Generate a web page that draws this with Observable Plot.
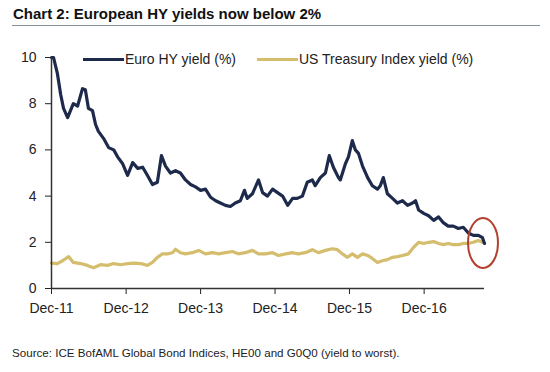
<!DOCTYPE html>
<html><head><meta charset="utf-8">
<script src="https://cdn.jsdelivr.net/npm/d3@7"></script>
<script src="https://cdn.jsdelivr.net/npm/@observablehq/plot@0.6"></script>
<style>
body{margin:0;background:#fff;font-family:"Liberation Sans",Arial,sans-serif;}
#wrap{position:relative;width:550px;height:372px;overflow:hidden;background:#fff;}
#title{position:absolute;left:13px;top:5px;font-weight:bold;font-size:15px;color:#111;white-space:nowrap;}
#rule{position:absolute;left:12px;top:25px;width:528px;height:0;border-top:1px solid #8590a0;}
#chart{position:absolute;left:0;top:30px;}
.leg{position:absolute;top:51px;font-size:14px;color:#222;display:flex;align-items:center;white-space:nowrap;}
.sw{display:inline-block;width:41px;height:3px;margin-right:1px;}
#source{position:absolute;left:12px;top:346px;font-size:11.6px;color:#222;white-space:nowrap;}
</style></head>
<body>
<div id="wrap">
  <div id="title">Chart 2: European HY yields now below 2%</div>
  <div id="rule"></div>
  <div id="chart"></div>
  <div class="leg" style="left:83px"><span class="sw" id="sw0"></span><span id="lab0"></span></div>
  <div class="leg" style="left:257px"><span class="sw" id="sw1"></span><span id="lab1"></span></div>
  <div id="source">Source: ICE BofAML Global Bond Indices, HE00 and G0Q0 (yield to worst).</div>
</div>
<script>
const seriesNames = ["Euro HY yield (%)", "US Treasury Index yield (%)"];
const seriesColors = ["#1e2a4c", "#d5bd6e"];

const euroDates = ["2011-12-01","2011-12-11","2011-12-30","2012-01-15","2012-01-29","2012-02-18","2012-03-03","2012-03-17","2012-04-07","2012-05-01","2012-05-15","2012-05-30","2012-06-19","2012-07-04","2012-07-18","2012-08-12","2012-09-06","2012-10-01","2012-10-20","2012-11-14","2012-12-08","2013-01-02","2013-01-27","2013-02-20","2013-03-15","2013-04-09","2013-05-03","2013-05-23","2013-06-12","2013-07-06","2013-07-31","2013-08-24","2013-09-18","2013-10-13","2013-11-06","2013-12-01","2013-12-25","2014-01-19","2014-02-13","2014-03-08","2014-04-02","2014-04-26","2014-05-20","2014-06-14","2014-07-04","2014-07-18","2014-08-12","2014-09-11","2014-10-01","2014-10-25","2014-11-19","2014-12-13","2015-01-07","2015-02-01","2015-02-25","2015-03-20","2015-04-14","2015-05-08","2015-06-02","2015-06-16","2015-07-11","2015-08-05","2015-08-24","2015-09-13","2015-10-08","2015-10-17","2015-11-11","2015-11-26","2015-12-15","2015-12-30","2016-01-14","2016-02-03","2016-02-28","2016-03-22","2016-04-16","2016-04-30","2016-05-15","2016-06-04","2016-06-29","2016-07-23","2016-08-17","2016-09-11","2016-10-05","2016-10-20","2016-11-04","2016-11-29","2016-12-23","2017-01-17","2017-02-10","2017-03-05","2017-03-29","2017-04-23","2017-05-18","2017-06-11","2017-07-06","2017-07-30","2017-08-24","2017-09-13","2017-09-23"];
const euroValues = [10.0,10.0,9.3,8.4,7.8,7.4,7.7,8.0,7.9,8.65,8.6,7.8,7.7,7.1,6.8,6.5,6.1,6.0,5.7,5.4,4.9,5.45,5.2,5.25,4.9,4.5,4.6,5.75,5.3,5.0,5.1,5.0,4.7,4.5,4.4,4.25,4.3,3.95,3.8,3.7,3.6,3.55,3.7,3.8,4.25,3.9,4.1,4.7,4.15,4.0,4.3,4.15,4.0,3.6,3.9,3.9,4.0,4.6,4.7,4.45,4.8,5.0,5.75,5.25,4.8,4.7,5.4,5.7,6.4,6.0,5.85,5.3,4.8,4.45,4.3,4.45,4.8,4.1,3.9,3.7,3.8,3.6,3.7,3.8,3.4,3.25,3.15,2.95,3.1,2.85,2.7,2.7,2.6,2.65,2.4,2.3,2.3,2.2,1.95];

const usDates = ["2011-12-01","2011-12-30","2012-01-24","2012-02-23","2012-03-17","2012-04-21","2012-05-25","2012-06-24","2012-07-28","2012-09-01","2012-10-01","2012-11-04","2012-12-08","2013-01-07","2013-02-11","2013-03-15","2013-04-09","2013-05-03","2013-05-28","2013-06-21","2013-07-16","2013-07-31","2013-08-24","2013-09-18","2013-10-22","2013-11-21","2013-12-25","2014-01-29","2014-02-27","2014-04-02","2014-05-06","2014-06-04","2014-07-08","2014-08-12","2014-09-11","2014-10-15","2014-11-19","2014-12-18","2015-01-22","2015-02-25","2015-03-25","2015-04-28","2015-06-02","2015-07-01","2015-08-05","2015-09-08","2015-10-03","2015-10-27","2015-11-21","2015-12-15","2016-01-09","2016-02-03","2016-02-28","2016-03-22","2016-04-16","2016-05-10","2016-06-04","2016-06-29","2016-07-23","2016-08-17","2016-09-15","2016-10-10","2016-11-04","2016-11-29","2016-12-23","2017-01-17","2017-02-10","2017-03-05","2017-03-29","2017-04-23","2017-05-18","2017-06-11","2017-07-06","2017-07-30","2017-08-24","2017-09-13"];
const usValues = [1.1,1.08,1.2,1.38,1.13,1.08,1.0,0.9,1.03,1.0,1.08,1.03,1.08,1.1,1.08,1.0,1.13,1.35,1.5,1.5,1.55,1.7,1.55,1.5,1.55,1.65,1.5,1.55,1.5,1.55,1.6,1.5,1.55,1.65,1.5,1.5,1.55,1.43,1.5,1.55,1.5,1.55,1.68,1.55,1.65,1.72,1.68,1.5,1.35,1.5,1.35,1.5,1.43,1.3,1.13,1.2,1.25,1.35,1.38,1.43,1.5,1.78,2.0,1.95,2.0,2.03,1.95,1.9,1.95,1.9,1.9,1.95,1.95,2.0,2.08,2.0];

const xTickDates = ["2011-12-01","2012-12-01","2013-12-01","2014-12-01","2015-12-01","2016-12-01"];
const yTicks = [0, 2, 4, 6, 8, 10];
const xDomain = ["2011-12-01", "2017-09-23"];
const yDomain = [0, 10];

const euro = euroDates.map((d, i) => ({date: new Date(d), value: euroValues[i]}));
const us = usDates.map((d, i) => ({date: new Date(d), value: usValues[i]}));
const last = euro[euro.length - 1];

document.getElementById("sw0").style.background = seriesColors[0];
document.getElementById("sw1").style.background = seriesColors[1];
document.getElementById("lab0").textContent = seriesNames[0];
document.getElementById("lab1").textContent = seriesNames[1];

const highlight = (index, scales) => {
  const g = d3.create("svg:g");
  g.append("ellipse")
    .attr("cx", scales.x(last.date) - 1)
    .attr("cy", scales.y(last.value))
    .attr("rx", 15).attr("ry", 25)
    .attr("fill", "none").attr("stroke", "#b3402f").attr("stroke-width", 2);
  return g.node();
};

const chart = Plot.plot({
  width: 550, height: 295,
  marginLeft: 51, marginRight: 66, marginTop: 27, marginBottom: 37,
  style: {fontFamily: '"Liberation Sans", Arial, sans-serif', fontSize: "14px", color: "#222", background: "transparent", overflow: "visible"},
  x: {type: "utc", domain: xDomain.map(d => new Date(d)), ticks: xTickDates.map(d => new Date(d)),
      tickFormat: d3.utcFormat("%b-%y"), tickSize: 6, tickPadding: 9, label: null},
  y: {domain: yDomain, ticks: yTicks, tickSize: 6, tickPadding: 9, label: null},
  marks: [
    Plot.lineY(us, {x: "date", y: "value", stroke: seriesColors[1], strokeWidth: 3.2}),
    Plot.lineY(euro, {x: "date", y: "value", stroke: seriesColors[0], strokeWidth: 3.2}),
    Plot.ruleY([0], {stroke: "#333", strokeWidth: 1.5}),
    Plot.ruleX([new Date(xDomain[0])], {y1: yDomain[0], y2: yDomain[1], stroke: "#333", strokeWidth: 1.5}),
    highlight
  ]
});
document.getElementById("chart").appendChild(chart);
</script>
</body></html>
